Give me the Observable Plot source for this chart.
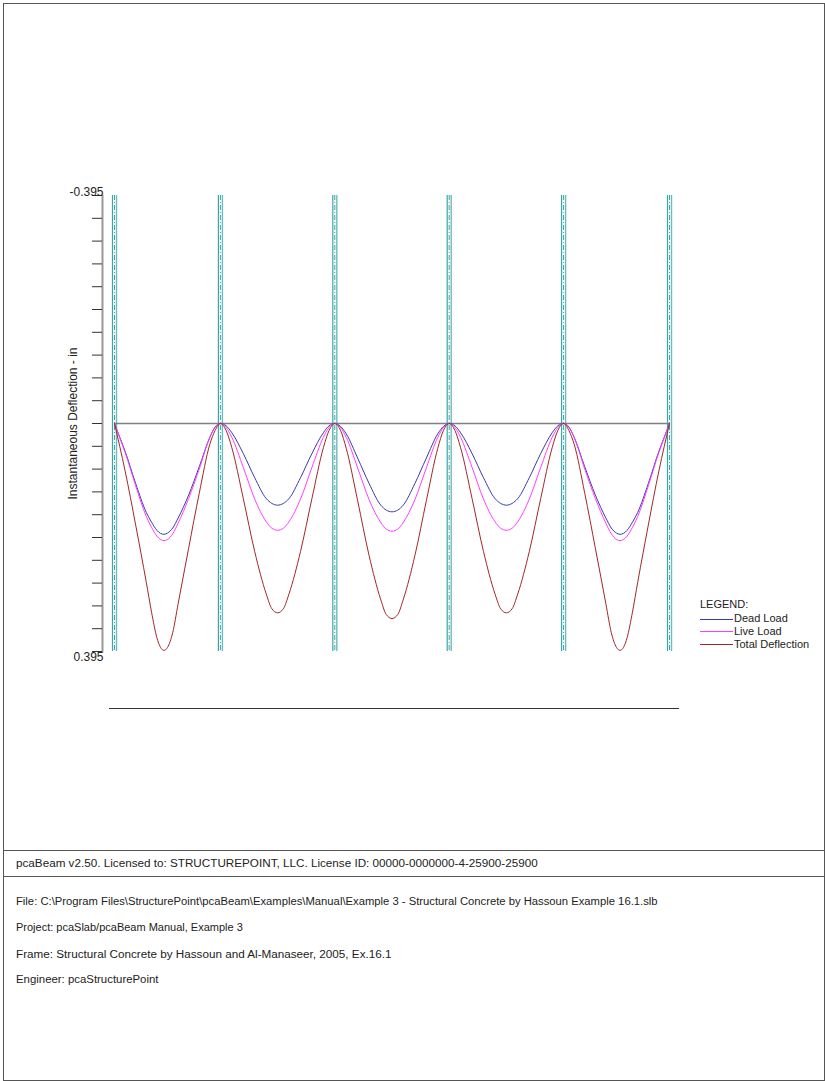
<!DOCTYPE html>
<html>
<head>
<meta charset="utf-8">
<script src="https://cdn.jsdelivr.net/npm/d3@7"></script>
<script src="https://cdn.jsdelivr.net/npm/@observablehq/plot@0.6"></script>
<style>
  html, body { margin: 0; padding: 0; background: #fff; }
  #page { position: relative; width: 825px; height: 1081px; overflow: hidden; font-family: "Liberation Sans", Arial, sans-serif; font-size: 11px; color: #222; }
  #border { position: absolute; left: 3px; top: 3px; width: 822px; height: 1078px; box-sizing: border-box; border: 1px solid #555; }
  .hline { position: absolute; height: 0; border-top: 1px solid #555; }
  .txt { position: absolute; white-space: nowrap; line-height: 13px; }
  #chart { position: absolute; left: 0; top: 0; }
  .leg { position: absolute; white-space: nowrap; line-height: 13px; font-size: 11px; }
  .legline { position: absolute; height: 0; width: 33px; border-top: 1px solid; }
</style>
</head>
<body>
<div id="page">
  <div id="border"></div>
  <div id="chart"></div>
  <div class="hline" style="left:109px; width:570px; top:708px; border-top-color:#333;"></div>
  <div class="txt leg" style="left:700px; top:598px;">LEGEND:</div>
  <div class="legline" style="left:700px; top:619px; border-top-color:#3a3aaa;"></div>
  <div class="txt leg" style="left:734px; top:612px;">Dead Load</div>
  <div class="legline" style="left:700px; top:631px; border-top-color:#ff3cff;"></div>
  <div class="txt leg" style="left:734px; top:625px;">Live Load</div>
  <div class="legline" style="left:700px; top:644px; border-top-color:#a02828;"></div>
  <div class="txt leg" style="left:734px; top:638px;">Total Deflection</div>
  <div class="hline" style="left:3px; width:822px; top:850px;"></div>
  <div class="txt" style="left:16px; top:856px; font-size:11.7px;">pcaBeam v2.50. Licensed to: STRUCTUREPOINT, LLC. License ID: 00000-0000000-4-25900-25900</div>
  <div class="hline" style="left:3px; width:822px; top:876px;"></div>
  <div class="txt" style="left:16px; top:895px; font-size:11.25px;">File: C:\Program Files\StructurePoint\pcaBeam\Examples\Manual\Example 3 - Structural Concrete by Hassoun Example 16.1.slb</div>
  <div class="txt" style="left:16px; top:921px;">Project: pcaSlab/pcaBeam Manual, Example 3</div>
  <div class="txt" style="left:16px; top:947px; font-size:11.7px;">Frame: Structural Concrete by Hassoun and Al-Manaseer, 2005, Ex.16.1</div>
  <div class="txt" style="left:16px; top:973px; font-size:11.4px;">Engineer: pcaStructurePoint</div>
</div>
<script>
// Support locations along the beam (ft)
const supports = [0, 25, 52, 79, 106, 131];

// Stations along the beam (ft)
const stations = [
  0, 1.25, 2.5, 5, 7.5, 8.75, 10, 10.875, 11.675, 12.5, 13.75, 15, 17.5, 20, 22.5, 23.75, 25,
  26.35, 27.7, 30.4, 33.1, 35.8, 37.15, 38.5, 39.85, 41.2, 43.9, 46.6, 49.3, 50.65, 52,
  53.35, 54.7, 57.4, 60.1, 62.8, 64.15, 65.5, 66.85, 68.2, 70.9, 73.6, 76.3, 77.65, 79,
  80.35, 81.7, 84.4, 87.1, 89.8, 91.15, 92.5, 93.85, 95.2, 97.9, 100.6, 103.3, 104.65, 106,
  107.25, 108.5, 111, 113.5, 116, 117.25, 118.5, 119.325, 120.125, 121, 122.25, 123.5, 126, 128.5, 129.75, 131
];

// Instantaneous deflection (in), positive downward
const deadLoad = [
  0, 0.024, 0.048, 0.104, 0.154, 0.171, 0.185, 0.1905, 0.192, 0.190, 0.181, 0.164, 0.124, 0.075, 0.024, 0.006, 0,
  0.004, 0.016, 0.052, 0.094, 0.130, 0.1385, 0.1415, 0.1385, 0.130, 0.094, 0.052, 0.016, 0.004, 0,
  0.005, 0.018, 0.060, 0.104, 0.141, 0.150, 0.153, 0.150, 0.141, 0.104, 0.060, 0.018, 0.005, 0,
  0.004, 0.016, 0.052, 0.094, 0.130, 0.1385, 0.1415, 0.1385, 0.130, 0.094, 0.052, 0.016, 0.004, 0,
  0.006, 0.024, 0.075, 0.124, 0.164, 0.181, 0.190, 0.192, 0.1905, 0.185, 0.171, 0.154, 0.104, 0.048, 0.024, 0
];
const liveLoad = [
  0, 0.025, 0.050, 0.108, 0.161, 0.180, 0.195, 0.201, 0.203, 0.201, 0.191, 0.173, 0.130, 0.079, 0.024, 0.007, 0,
  0.007, 0.024, 0.076, 0.131, 0.170, 0.1815, 0.185, 0.1815, 0.170, 0.131, 0.076, 0.024, 0.007, 0,
  0.007, 0.024, 0.077, 0.132, 0.171, 0.183, 0.1865, 0.183, 0.171, 0.132, 0.077, 0.024, 0.007, 0,
  0.007, 0.024, 0.076, 0.131, 0.170, 0.1815, 0.185, 0.1815, 0.170, 0.131, 0.076, 0.024, 0.007, 0,
  0.007, 0.024, 0.079, 0.130, 0.173, 0.191, 0.201, 0.203, 0.201, 0.195, 0.180, 0.161, 0.108, 0.050, 0.025, 0
];
const totalDeflection = [
  0, 0.040, 0.082, 0.176, 0.275, 0.327, 0.371, 0.388, 0.393, 0.388, 0.362, 0.313, 0.216, 0.121, 0.036, 0.012, 0,
  0.012, 0.042, 0.130, 0.222, 0.295, 0.321, 0.328, 0.321, 0.295, 0.222, 0.130, 0.042, 0.012, 0,
  0.012, 0.043, 0.134, 0.229, 0.304, 0.331, 0.338, 0.331, 0.304, 0.229, 0.134, 0.043, 0.012, 0,
  0.012, 0.042, 0.130, 0.222, 0.295, 0.321, 0.328, 0.321, 0.295, 0.222, 0.130, 0.042, 0.012, 0,
  0.012, 0.036, 0.121, 0.216, 0.313, 0.362, 0.388, 0.393, 0.388, 0.371, 0.327, 0.275, 0.176, 0.082, 0.040, 0
];

// Y axis ticks and end labels
const yTicks = [-0.395, -0.3555, -0.316, -0.2765, -0.237, -0.1975, -0.158, -0.1185, -0.079, -0.0395, 0,
  0.0395, 0.079, 0.1185, 0.158, 0.1975, 0.237, 0.2765, 0.316, 0.3555, 0.395];
const yTopLabel = [{value: -0.395, label: "-0.395"}];
const yBottomLabel = [{value: 0.395, label: "0.395"}];
const yTitle = ["Instantaneous Deflection - in"];

const rows = stations.map((s, i) => ({station: s, dead: deadLoad[i], live: liveLoad[i], total: totalDeflection[i]}));

const teal = "#3aa6a6";
const chart = Plot.plot({
  width: 825,
  height: 720,
  marginTop: 195,
  marginBottom: 69,
  marginLeft: 102,
  marginRight: 20,
  x: {domain: [0, 131], range: [114, 669], axis: null},
  y: {domain: [-0.395, 0.395], reverse: true},
  style: {fontFamily: "'Liberation Sans', Arial, sans-serif", fontSize: "12px", background: "transparent", color: "#222"},
  marks: [
    Plot.ruleX(supports, {x: d => d, dx: -2, stroke: teal, strokeWidth: 1.2}),
    Plot.ruleX(supports, {x: d => d, dx: 2, stroke: "#6cbcbc", strokeWidth: 1.4}),
    Plot.ruleX(supports, {x: d => d, stroke: teal, strokeWidth: 1, strokeDasharray: "5,2,1,2"}),
    Plot.ruleY([0], {x1: 0, x2: 131, stroke: "#808080", strokeWidth: 1.5}),
    Plot.frame({anchor: "left", stroke: "#999", strokeWidth: 2}),
    Plot.axisY(yTicks, {anchor: "left", tickSize: 10, tickFormat: () => "", stroke: "#333"}),
    Plot.text(yTopLabel, {y: "value", text: "label", frameAnchor: "left", textAnchor: "end", lineAnchor: "bottom", dx: 1, dy: 0, fill: "#222", fontSize: 12}),
    Plot.text(yBottomLabel, {y: "value", text: "label", frameAnchor: "left", textAnchor: "end", lineAnchor: "top", dx: 1, dy: 1, fill: "#222", fontSize: 12}),
    Plot.text(yTitle, {frameAnchor: "left", textAnchor: "middle", rotate: -90, dx: -29, fill: "#222", fontSize: 12}),
    Plot.line(rows, {x: "station", y: "dead", stroke: "#3a3aaa", strokeWidth: 1, curve: "monotone-x"}),
    Plot.line(rows, {x: "station", y: "live", stroke: "#ff3cff", strokeWidth: 1, curve: "monotone-x"}),
    Plot.line(rows, {x: "station", y: "total", stroke: "#a02828", strokeWidth: 1, curve: "monotone-x"})
  ]
});
document.getElementById("chart").appendChild(chart);
</script>
</body>
</html>
